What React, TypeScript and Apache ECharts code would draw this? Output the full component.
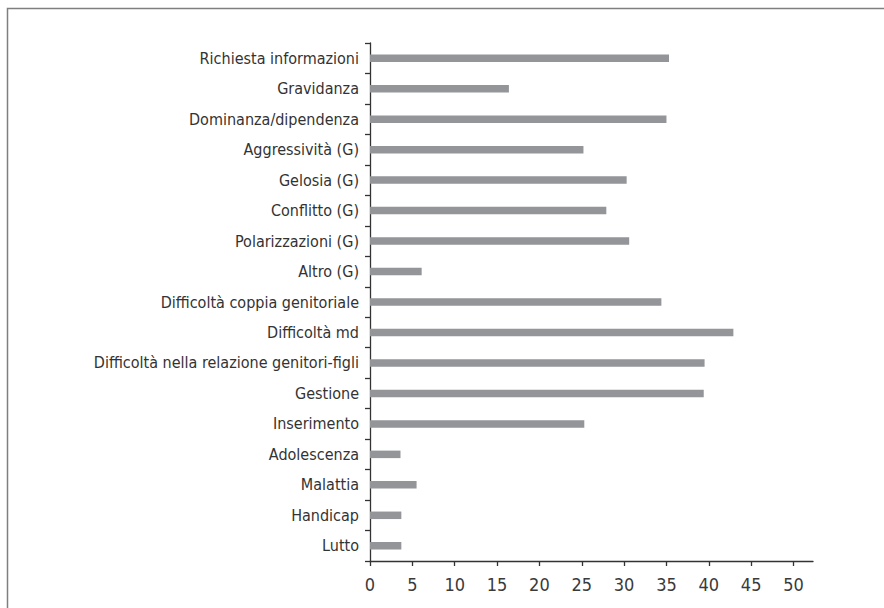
import React, { useEffect, useRef } from "react";
import * as echarts from "echarts";

const categories = [
  "Richiesta informazioni",
  "Gravidanza",
  "Dominanza/dipendenza",
  "Aggressività (G)",
  "Gelosia (G)",
  "Conflitto (G)",
  "Polarizzazioni (G)",
  "Altro (G)",
  "Difficoltà coppia genitoriale",
  "Difficoltà md",
  "Difficoltà nella relazione genitori-figli",
  "Gestione",
  "Inserimento",
  "Adolescenza",
  "Malattia",
  "Handicap",
  "Lutto",
];

const values = [35.3, 16.4, 35.0, 25.2, 30.3, 27.9, 30.6, 6.1, 34.4, 42.9, 39.5, 39.4, 25.3, 3.6, 5.5, 3.7, 3.7];

const xTicks = [0, 5, 10, 15, 20, 25, 30, 35, 40, 45, 50];

const FONT = "'Liberation Sans Narrow', 'Noto Sans Condensed', 'DejaVu Sans Condensed', sans-serif";

export default function App() {
  const ref = useRef<HTMLDivElement>(null);
  useEffect(() => {
    if (!ref.current) return;
    const chart = echarts.init(ref.current, null, { renderer: "svg" });
    chart.setOption({
      animation: false,
      backgroundColor: "#ffffff",
      graphic: [
        {
          type: "rect",
          shape: { x: 7.5, y: 8.5, width: 1000, height: 800 },
          style: { fill: "none", stroke: "#7f7f7f", lineWidth: 1.5 },
          silent: true,
        },
      ],
      grid: { left: 370, top: 43, width: 443, height: 518, containLabel: false },
      xAxis: {
        type: "value",
        min: 0,
        max: 52.3,
        splitLine: { show: false },
        axisLine: { show: true, lineStyle: { color: "#333333", width: 1.3 } },
        axisTick: { show: true, length: 5, customValues: xTicks, lineStyle: { color: "#333333", width: 1.3 } },
        axisLabel: {
          customValues: xTicks,
          color: "#3a3a3a",
          fontSize: 18,
          fontFamily: FONT,
          margin: 14,
        },
      },
      yAxis: {
        type: "category",
        data: categories,
        inverse: true,
        axisLine: { show: true, lineStyle: { color: "#333333", width: 1.3 } },
        axisTick: { show: true, length: 5, lineStyle: { color: "#333333", width: 1.3 } },
        axisLabel: {
          color: "#333333",
          fontSize: 16,
          fontFamily: FONT,
          margin: 11,
        },
      },
      series: [
        {
          type: "bar",
          data: values,
          barWidth: 7.5,
          itemStyle: { color: "#939598" },
        },
      ],
    });
    return () => chart.dispose();
  }, []);
  return (
    <div
      ref={ref}
      style={{ position: "fixed", left: 0, top: 0, width: 884, height: 608 }}
    />
  );
}
